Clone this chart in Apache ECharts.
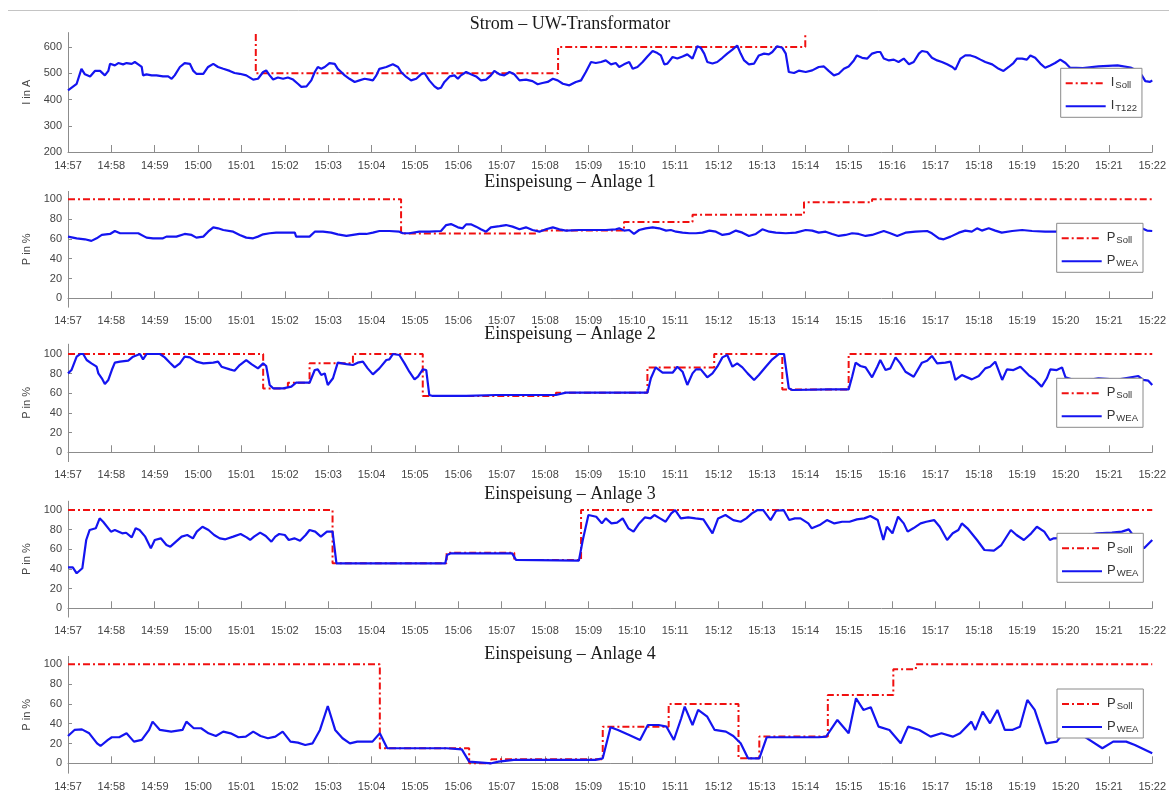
<!DOCTYPE html>
<html><head><meta charset="utf-8">
<script src="https://cdn.jsdelivr.net/npm/echarts@6/dist/echarts.min.js"></script>
<style>html,body{margin:0;padding:0;background:#fff}#c{width:1169px;height:796px}</style>
</head><body><div id="c"></div>
<script>
// time axis: minutes after 14:57
const tickLabels = ['14:57','14:58','14:59','15:00','15:01','15:02','15:03','15:04','15:05','15:06','15:07','15:08','15:09','15:10','15:11','15:12','15:13','15:14','15:15','15:16','15:17','15:18','15:19','15:20','15:21','15:22'];
const titles = ['Strom – UW-Transformator','Einspeisung – Anlage 1','Einspeisung – Anlage 2','Einspeisung – Anlage 3','Einspeisung – Anlage 4'];
const yNames = ['I in A','P in %','P in %','P in %','P in %'];
const yTicksCurrent = [200,300,400,500,600];
const yTicksPower = [0,20,40,60,80,100];

// step setpoints: [minute of change, new value]
const trafoSoll = [[4.33,650],[4.33,500],[11.3,600],[17.0,655]];
const trafoIst = [[0,435],[0.2,460],[0.31,517],[0.39,496],[0.51,488],[0.62,509],[0.74,509],[0.85,492],[0.93,509],[0.97,536],[1.08,530],[1.16,539],[1.27,534],[1.35,539],[1.47,536],[1.54,543],[1.62,534],[1.70,524],[1.73,492],[1.81,496],[1.93,492],[2.04,492],[2.19,488],[2.31,488],[2.39,479],[2.46,492],[2.58,524],[2.69,539],[2.81,536],[2.89,509],[2.96,498],[3.12,498],[3.23,524],[3.35,536],[3.46,524],[3.58,517],[3.73,509],[3.84,501],[3.96,498],[4.11,492],[4.27,476],[4.38,479],[4.50,505],[4.57,511],[4.65,492],[4.73,476],[4.84,484],[4.96,479],[5.07,484],[5.19,476],[5.30,460],[5.38,448],[5.50,450],[5.61,473],[5.69,505],[5.76,524],[5.84,517],[5.92,524],[6.03,539],[6.15,536],[6.22,517],[6.30,505],[6.38,492],[6.49,479],[6.61,467],[6.72,473],[6.84,479],[6.95,476],[7.03,473],[7.11,492],[7.18,517],[7.34,524],[7.49,534],[7.61,524],[7.68,505],[7.80,486],[7.91,473],[8.03,479],[8.14,496],[8.22,501],[8.33,473],[8.45,450],[8.53,441],[8.60,445],[8.68,467],[8.80,488],[8.91,492],[8.99,479],[9.06,492],[9.18,505],[9.29,496],[9.41,488],[9.52,473],[9.64,476],[9.75,492],[9.83,509],[9.95,496],[10.06,492],[10.18,505],[10.29,496],[10.41,473],[10.56,476],[10.71,470],[10.83,458],[10.94,463],[11.06,467],[11.18,479],[11.29,473],[11.41,460],[11.56,454],[11.71,467],[11.83,473],[11.94,505],[12.06,543],[12.17,539],[12.29,543],[12.40,549],[12.52,534],[12.63,539],[12.71,524],[12.82,534],[12.94,543],[13.02,517],[13.13,524],[13.25,543],[13.36,564],[13.48,585],[13.59,577],[13.67,568],[13.75,534],[13.82,537],[13.94,562],[14.05,556],[14.17,564],[14.28,572],[14.40,556],[14.51,603],[14.59,597],[14.67,575],[14.74,543],[14.86,537],[14.97,543],[15.09,559],[15.20,575],[15.32,590],[15.43,606],[15.51,575],[15.59,549],[15.70,534],[15.82,537],[15.93,568],[16.05,575],[16.16,572],[16.24,581],[16.35,603],[16.47,597],[16.55,575],[16.62,505],[16.74,501],[16.85,510],[17.01,505],[17.16,511],[17.31,524],[17.43,526],[17.54,509],[17.66,492],[17.77,498],[17.89,517],[18.00,526],[18.12,549],[18.19,568],[18.31,559],[18.43,556],[18.54,575],[18.66,581],[18.73,581],[18.81,556],[18.93,549],[19.04,552],[19.15,543],[19.27,556],[19.39,534],[19.50,543],[19.62,575],[19.69,585],[19.81,581],[19.92,559],[20.04,549],[20.15,543],[20.27,534],[20.39,524],[20.46,514],[20.58,556],[20.69,568],[20.81,568],[20.92,562],[21.04,552],[21.15,543],[21.31,534],[21.46,517],[21.57,509],[21.69,524],[21.80,539],[21.88,556],[22.00,556],[22.11,552],[22.19,568],[22.30,559],[22.42,537],[22.53,521],[22.65,530],[22.76,539],[22.88,552],[23.00,539],[23.10,522],[23.40,520],[23.76,526],[24.20,530],[24.50,522],[24.64,511],[24.76,492],[24.84,470],[24.95,467],[25,473]];

const anlage1Soll = [[0,100],[7.68,65.5],[10.8,68.5],[12.82,77],[14.4,84.5],[16.97,97],[18.54,100],[25,100]];
const anlage1Ist = [[0,62.3],[0.2,60.6],[0.39,59.6],[0.54,58],[0.66,60.6],[0.78,64],[0.97,65],[1.08,68],[1.20,65.7],[1.35,65.7],[1.62,65.7],[1.81,61.3],[1.96,60.6],[2.19,60.6],[2.27,62.3],[2.50,62.3],[2.69,65],[2.85,64],[2.96,61.3],[3.12,62.3],[3.23,67.3],[3.35,71.7],[3.46,70.7],[3.58,69],[3.81,67.3],[3.96,64],[4.11,61.3],[4.27,60.6],[4.38,62.3],[4.50,64.6],[4.65,65.7],[4.80,66.3],[5.23,66.3],[5.26,62.3],[5.57,62.3],[5.69,67.3],[5.88,67.3],[6.07,66.3],[6.22,64.6],[6.42,63],[6.57,64],[6.72,65],[6.88,65],[7.03,66.3],[7.18,68],[7.41,68],[7.64,67.3],[7.72,65.7],[7.87,65.7],[8.10,67.3],[8.33,67.3],[8.60,68],[8.72,74],[8.83,75],[8.99,71.7],[9.10,70.7],[9.18,74.7],[9.29,74.7],[9.41,72.4],[9.52,69.7],[9.64,67.3],[9.75,71.7],[9.95,73],[10.10,74],[10.25,72.4],[10.41,69.7],[10.56,71.7],[10.71,69],[10.87,67.3],[11.02,69.7],[11.18,71.7],[11.33,69.7],[11.48,68.4],[11.79,69],[12.09,69],[12.40,69],[12.63,69.7],[12.71,70.7],[12.82,68.4],[12.94,69],[13.05,65],[13.17,69],[13.32,70.7],[13.48,71.7],[13.63,70.7],[13.79,68.4],[13.90,69],[14.02,67.3],[14.17,66.3],[14.33,65.7],[14.48,65.7],[14.63,66.3],[14.79,68.4],[14.94,67.3],[15.09,64],[15.24,65],[15.40,68.4],[15.55,66.3],[15.70,63],[15.86,65],[16.01,69.7],[16.17,67.3],[16.32,66.3],[16.55,65.7],[16.78,66.3],[17.01,69],[17.16,68.4],[17.31,66.3],[17.47,67.3],[17.62,65],[17.77,63],[17.93,64],[18.08,65.7],[18.23,65],[18.39,63],[18.54,64],[18.69,66.3],[18.81,68],[18.96,65.7],[19.12,63],[19.31,66.3],[19.54,67.3],[19.81,68],[19.92,65.7],[20.08,60.6],[20.19,59.6],[20.35,62.3],[20.54,66.3],[20.69,68.4],[20.84,67.3],[20.96,70.7],[21.07,68.4],[21.23,70.7],[21.38,68.4],[21.53,66.3],[21.77,68],[22.00,69],[22.23,68],[22.53,67.3],[22.76,67.3],[23.3,68],[23.8,67],[24.3,68],[24.76,70.7],[24.88,68.4],[25,68]];

const anlage2Soll = [[0,100],[4.50,65],[5.07,70.8],[5.57,90.5],[6.57,100],[8.18,57.3],[11.25,60.7],[13.36,86.4],[14.90,100],[16.47,64],[18.0,100],[25,100]];
const anlage2Ist = [[0,80.3],[0.08,83.7],[0.20,97.3],[0.28,100],[0.35,100],[0.43,93.9],[0.54,90.5],[0.66,87.1],[0.70,80.3],[0.78,75.3],[0.85,69.5],[0.93,73.6],[1.01,83.7],[1.08,91.2],[1.20,92.2],[1.39,93.2],[1.50,97.3],[1.66,100],[1.73,94.6],[1.81,100],[1.96,100],[2.12,100],[2.23,96.6],[2.35,91.2],[2.46,86.4],[2.58,90.5],[2.69,97.3],[2.81,96.6],[2.96,92.2],[3.12,90.5],[3.35,91.2],[3.46,92.2],[3.54,87.1],[3.73,84.4],[3.84,83],[3.96,88.8],[4.11,93.9],[4.23,89.8],[4.38,85.4],[4.50,90.5],[4.57,87.8],[4.65,68.5],[4.73,65.1],[4.96,65.1],[5.15,66.8],[5.26,70.8],[5.57,70.8],[5.69,83.7],[5.76,84.4],[5.84,78.6],[5.92,80.3],[5.99,68.5],[6.11,75.3],[6.22,91.2],[6.42,89.8],[6.57,88.8],[6.68,91.2],[6.80,92.2],[6.91,85.4],[7.03,79.3],[7.18,85.4],[7.34,93.9],[7.41,94.6],[7.49,100],[7.64,99],[7.76,90.5],[7.87,82],[7.99,74.2],[8.07,76.9],[8.18,84.4],[8.26,83.7],[8.33,58.3],[8.41,57.3],[9.18,57.3],[9.87,58.3],[11.25,58.3],[11.48,60.7],[13.36,60.7],[13.44,75.3],[13.55,86.4],[13.71,81],[13.94,81],[14.05,87.1],[14.17,82],[14.28,68.5],[14.40,80.3],[14.48,84.4],[14.59,84.4],[14.74,76.3],[14.86,80.3],[14.97,87.1],[15.09,96.6],[15.20,99],[15.32,87.1],[15.43,90.5],[15.55,86.4],[15.67,80.3],[15.82,73.6],[15.93,78.6],[16.09,87.1],[16.24,94.6],[16.39,100],[16.51,100],[16.62,65.1],[16.70,63.4],[17.54,64],[18.00,64],[18.08,76.9],[18.16,91.2],[18.27,87.8],[18.39,86.4],[18.54,76.3],[18.66,87.1],[18.73,93.9],[18.85,83.7],[18.96,85.4],[19.08,96.6],[19.19,90.5],[19.31,82],[19.50,76.9],[19.69,91.2],[19.81,93.2],[19.92,98],[20.04,90.5],[20.23,91.2],[20.35,92.2],[20.46,73.6],[20.61,78.6],[20.84,74.2],[21.00,77.6],[21.15,85.4],[21.26,87.1],[21.38,92.2],[21.54,73.6],[21.65,84.4],[21.80,83.7],[21.96,87.1],[22.15,78.6],[22.30,73.6],[22.45,66.8],[22.57,75.3],[22.65,84.4],[22.80,83.7],[22.92,86.4],[23.0,76.3],[23.3,72],[23.76,75.3],[24.2,74],[24.68,77.6],[24.79,73.6],[24.91,72.9],[25,68.5]];

const anlage3Soll = [[0,100],[6.10,45.8],[8.73,56.6],[10.29,49.2],[11.83,100],[25,100]];
const anlage3Ist = [[0,41.7],[0.11,41.7],[0.2,35.6],[0.24,33.9],[0.33,40.7],[0.42,69.5],[0.50,79.7],[0.64,81.4],[0.73,91.5],[0.81,88.1],[0.99,78],[1.08,79.7],[1.25,76.3],[1.34,76.9],[1.47,72.2],[1.56,81.4],[1.65,79.7],[1.78,72.9],[1.91,61],[2.00,69.5],[2.14,71.2],[2.27,64.4],[2.36,62.7],[2.49,67.8],[2.62,72.9],[2.75,74.6],[2.88,71.2],[2.97,78],[3.10,83],[3.24,79.7],[3.37,74.6],[3.50,71.2],[3.63,70.2],[3.81,72.9],[3.98,75.6],[4.12,72.2],[4.20,69.5],[4.29,72.9],[4.43,77],[4.56,73.6],[4.69,67.8],[4.78,72.9],[4.87,75.6],[5.00,74.6],[5.09,69.5],[5.22,71.2],[5.35,68.8],[5.48,74.6],[5.57,79.7],[5.70,78],[5.83,72.9],[5.97,78],[6.10,78],[6.19,45.8],[6.32,45.8],[8.70,45.8],[8.74,54.2],[8.83,55.9],[10.24,55.9],[10.33,49.2],[11.78,48.5],[11.87,69.5],[12.00,95],[12.18,93.2],[12.31,86.4],[12.40,91.5],[12.53,86.4],[12.66,87.1],[12.79,91.5],[12.92,81.4],[13.04,78],[13.17,86.4],[13.30,92.5],[13.43,91.5],[13.52,94.9],[13.65,91.5],[13.78,88.1],[13.91,96.6],[14.00,100],[14.13,91.5],[14.30,92.5],[14.47,91.5],[14.65,90.5],[14.86,76.3],[14.99,91.5],[15.16,94.9],[15.34,89.8],[15.51,88.1],[15.64,91.5],[15.77,96.6],[15.90,100],[16.03,100],[16.20,89.8],[16.33,99.3],[16.50,100],[16.63,89.8],[16.76,91.5],[16.89,91.5],[17.07,86.4],[17.15,81.4],[17.33,84.7],[17.50,89.8],[17.67,86.4],[17.85,88.1],[18.02,88.1],[18.19,90.5],[18.36,91.5],[18.50,93.9],[18.67,89.8],[18.80,69.5],[18.88,83],[19.01,76.3],[19.14,93.2],[19.27,86.4],[19.36,78],[19.49,81.4],[19.66,86.4],[19.79,88.1],[19.97,89.8],[20.10,83],[20.27,69.5],[20.40,76.3],[20.53,79.7],[20.61,86.4],[20.74,81.4],[20.96,69.5],[21.13,59.3],[21.35,58.6],[21.52,64.4],[21.74,79.7],[21.87,74.6],[22.04,69.5],[22.21,76.3],[22.34,83],[22.51,78],[22.64,69.5],[22.73,71.2],[23.2,72],[23.73,76.3],[24.07,77],[24.3,78],[24.46,80.3],[24.58,73],[24.68,67.8],[24.81,61],[25,69.5]];

const anlage4Soll = [[0,100],[7.19,15.2],[9.25,0],[9.76,4],[12.33,37],[13.85,60],[15.46,5],[15.94,27],[17.52,69],[19.03,95],[19.55,100],[25,100]];
const anlage4Ist = [[0,27.6],[0.15,33.7],[0.32,34.3],[0.49,30.3],[0.67,20.2],[0.75,17.5],[0.92,23.6],[1.01,26.3],[1.18,26.3],[1.35,30.3],[1.52,21.9],[1.70,23.6],[1.87,33.7],[1.95,42.1],[2.12,33.7],[2.38,32],[2.64,33.7],[2.73,42.1],[2.90,35.4],[3.07,35.4],[3.24,30.3],[3.41,27.6],[3.58,32],[3.75,30.3],[3.93,26.3],[4.10,26.9],[4.27,32],[4.44,27.6],[4.61,25.3],[4.78,26.9],[4.95,32],[5.13,21.9],[5.30,20.9],[5.47,18.5],[5.64,20.2],[5.81,33.7],[5.99,57.9],[6.16,33.7],[6.33,25.3],[6.50,20.2],[6.67,21.9],[6.84,21.9],[7.02,21.9],[7.19,30.3],[7.36,15.2],[7.53,15.2],[8.04,15.2],[8.73,15.2],[9.08,14.1],[9.25,1.7],[9.76,0],[9.93,1.7],[10.28,3.4],[11.13,3.4],[12.16,3.4],[12.33,5],[12.51,36.4],[12.68,33.7],[12.94,28.6],[13.19,23.6],[13.37,38.7],[13.62,38.7],[13.80,37],[13.97,23.6],[14.14,45.5],[14.22,57.2],[14.40,38.7],[14.53,53.9],[14.74,47.1],[14.91,33.7],[15.17,32],[15.34,27.6],[15.51,20.2],[15.68,5],[15.94,5],[16.11,26.3],[17.31,26.3],[17.48,26.9],[17.74,43.8],[18.00,30.3],[18.17,65.7],[18.34,53.9],[18.51,56.6],[18.69,37],[18.94,33.7],[19.20,20.2],[19.37,37],[19.63,33.7],[19.89,26.9],[20.14,30.3],[20.40,26.9],[20.57,30.3],[20.83,42.1],[20.92,33.7],[21.09,52.2],[21.26,40.4],[21.43,53.9],[21.60,33.7],[21.77,33.7],[21.95,37],[22.12,64],[22.29,53.9],[22.55,20.2],[22.80,21.9],[22.97,32],[23.4,28],[23.85,15.2],[24.1,21.9],[24.4,21.9],[24.6,18.5],[25,10.1]];

// ---------- layout & styling ----------
const sans = 'Liberation Sans, Arial, sans-serif';
const serif = 'Liberation Serif, Times New Roman, serif';
const red = '#f01010', blue = '#1414f0', axisColor = '#8c8c8c', labelColor = '#444';

const panels = [
  {title:titles[0], titleTop:15, top:32.6, height:119.4, min:200, max:655, ticks:yTicksCurrent, yName:yNames[0], soll:trafoSoll, ist:trafoIst, sollName:'I_Soll', istName:'I_T122', lLeft:1060.7, lTop:68.3},
  {title:titles[1], titleTop:173, top:191.4, height:115.8, min:-9, max:108, ticks:yTicksPower, yName:yNames[1], soll:anlage1Soll, ist:anlage1Ist, sollName:'P_Soll', istName:'P_WEA', lLeft:1056.7, lTop:223.3},
  {title:titles[2], titleTop:325.5, top:344.2, height:117.4, min:-9.5, max:110, ticks:yTicksPower, yName:yNames[2], soll:anlage2Soll, ist:anlage2Ist, sollName:'P_Soll', istName:'P_WEA', lLeft:1056.7, lTop:378.3},
  {title:titles[3], titleTop:485.5, top:501.2, height:115.9, min:-9, max:109, ticks:yTicksPower, yName:yNames[3], soll:anlage3Soll, ist:anlage3Ist, sollName:'P_Soll', istName:'P_WEA', lLeft:1057, lTop:533.3},
  {title:titles[4], titleTop:645, top:656.4, height:116.8, min:-10, max:108, ticks:yTicksPower, yName:yNames[4], soll:anlage4Soll, ist:anlage4Ist, sollName:'P_Soll', istName:'P_WEA', lLeft:1057, lTop:689}
];

const grids=[], xAxes=[], yAxes=[], series=[], titleOpts=[], legends=[];
panels.forEach((p,i)=>{
  grids.push({left:68, right:15, top:p.top, height:p.height, containLabel:false});
  xAxes.push({type:'value', gridIndex:i, min:0, max:25, interval:1,
    axisLine:{show:true, lineStyle:{color:axisColor, width:1}},
    axisTick:{show:true, inside:true, length:7, lineStyle:{color:axisColor}},
    axisLabel:{formatter:v=>tickLabels[Math.round(v)]||'', color:labelColor, fontSize:11, fontFamily:sans, margin:8, showMinLabel:true, showMaxLabel:true},
    splitLine:{show:false}});
  yAxes.push({type:'value', gridIndex:i, min:p.min, max:p.max,
    name:p.yName, nameLocation:'middle', nameGap:31,
    nameTextStyle:{color:labelColor, fontSize:11, fontFamily:sans},
    axisLine:{show:true, lineStyle:{color:axisColor, width:1}},
    axisTick:{show:true, inside:true, length:4, customValues:p.ticks, lineStyle:{color:axisColor}},
    axisLabel:{customValues:p.ticks, color:labelColor, fontSize:11, fontFamily:sans, margin:6},
    splitLine:{show:false}});
  series.push({type:'line', name:p.sollName, xAxisIndex:i, yAxisIndex:i, data:p.soll, step:'end',
    symbol:'none', showSymbol:false, lineStyle:{color:red, width:2, type:[7,3,2,3]}, itemStyle:{color:red}, z:2});
  series.push({type:'line', name:p.istName, xAxisIndex:i, yAxisIndex:i, data:p.ist,
    symbol:'none', showSymbol:false, lineStyle:{color:blue, width:2.2}, itemStyle:{color:blue}, z:3});
  titleOpts.push({text:p.title, left:570, top:p.titleTop, textAlign:'center', padding:0,
    textStyle:{fontFamily:serif, fontSize:18, fontWeight:'normal', color:'#1a1a1a'}});
  legends.push({orient:'vertical', left:p.lLeft, top:p.lTop, data:[p.sollName, p.istName],
    selectedMode:false, itemWidth:40, itemHeight:3, itemGap:5, padding:[4,5,4,4],
    backgroundColor:'#fff', borderColor:'#8a8a8a', borderWidth:1, borderRadius:0,
    itemStyle:{opacity:0, color:'rgba(0,0,0,0)', borderWidth:0},
    formatter:n=>{const k=n.split('_'); return '{m|'+k[0]+'}{s|'+k[1]+'}';},
    textStyle:{color:'#333', fontFamily:sans, rich:{
      m:{fontSize:13, fontFamily:sans, color:'#333', lineHeight:14, verticalAlign:'top'},
      s:{fontSize:9.5, fontFamily:sans, color:'#333', lineHeight:10, padding:[8,0,0,1], verticalAlign:'bottom'}
    }}});
});

const chart = echarts.init(document.getElementById('c'));
chart.setOption({
  animation:false,
  backgroundColor:'#fff',
  title:titleOpts, grid:grids, xAxis:xAxes, yAxis:yAxes, legend:legends, series:series,
  graphic:[{type:'line', shape:{x1:8, y1:10.5, x2:1169, y2:10.5}, style:{stroke:'#c4c4c4', lineWidth:1}, silent:true}]
});
</script>
</body></html>
